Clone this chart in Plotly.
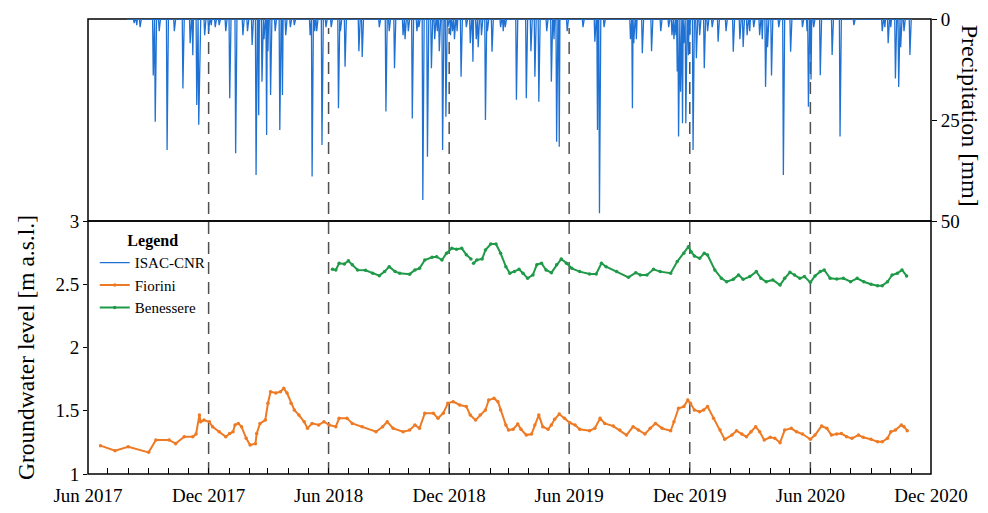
import pandas as pd
import plotly.graph_objects as go

# ---------------- data ----------------
# Daily precipitation (ISAC-CNR station): record period and the rainy days
precip_start = "2017-07-30"
precip_end = "2020-11-01"
rain_dates = [
    "2017-08-10", "2017-08-14", "2017-08-19", "2017-09-08", "2017-09-11", "2017-09-17",
    "2017-09-29", "2017-10-10", "2017-10-23", "2017-11-03", "2017-11-07", "2017-11-13",
    "2017-11-16", "2017-11-17", "2017-11-25", "2017-12-01", "2017-12-05", "2017-12-11",
    "2017-12-17", "2017-12-27", "2018-01-02", "2018-01-11", "2018-01-22", "2018-01-29",
    "2018-02-05", "2018-02-11", "2018-02-15", "2018-02-20", "2018-02-23", "2018-02-27",
    "2018-03-01", "2018-03-05", "2018-03-12", "2018-03-19", "2018-03-23", "2018-03-28",
    "2018-04-04", "2018-04-10", "2018-05-04", "2018-05-07", "2018-05-11", "2018-05-14",
    "2018-05-22", "2018-05-28", "2018-06-05", "2018-06-16", "2018-06-19", "2018-06-26",
    "2018-07-17", "2018-07-22", "2018-08-17", "2018-08-27", "2018-09-01", "2018-09-09",
    "2018-09-22", "2018-09-25", "2018-09-30", "2018-10-06", "2018-10-13", "2018-10-16",
    "2018-10-22", "2018-10-29", "2018-11-04", "2018-11-09", "2018-11-13", "2018-11-16",
    "2018-11-21", "2018-11-26", "2018-11-29", "2018-12-03", "2018-12-06", "2018-12-09",
    "2018-12-13", "2018-12-19", "2018-12-27", "2019-01-02", "2019-01-06", "2019-01-11",
    "2019-01-14", "2019-01-19", "2019-01-25", "2019-01-28", "2019-02-04", "2019-02-17",
    "2019-02-21", "2019-02-24", "2019-03-13", "2019-03-28", "2019-04-04", "2019-04-10",
    "2019-04-16", "2019-04-28", "2019-05-05", "2019-05-09", "2019-05-13", "2019-05-17",
    "2019-05-29", "2019-06-22", "2019-07-10", "2019-07-14", "2019-07-17", "2019-07-24",
    "2019-09-02", "2019-09-05", "2019-09-07", "2019-09-11", "2019-09-20", "2019-10-04",
    "2019-10-18", "2019-10-30", "2019-11-04", "2019-11-07", "2019-11-10", "2019-11-12",
    "2019-11-14", "2019-11-17", "2019-11-20", "2019-11-22", "2019-11-25", "2019-11-29",
    "2019-12-01", "2019-12-06", "2019-12-11", "2019-12-16", "2019-12-23", "2019-12-28",
    "2020-01-04", "2020-01-13", "2020-01-25", "2020-02-05", "2020-02-15", "2020-02-20",
    "2020-02-26", "2020-03-01", "2020-03-07", "2020-03-16", "2020-03-20", "2020-03-25",
    "2020-03-28", "2020-04-03", "2020-04-14", "2020-04-21", "2020-05-02", "2020-05-20",
    "2020-05-27", "2020-05-29", "2020-06-02", "2020-06-06", "2020-06-16", "2020-07-04",
    "2020-07-16", "2020-08-06", "2020-09-18", "2020-09-22", "2020-09-27", "2020-10-01",
    "2020-10-08", "2020-10-13", "2020-10-16", "2020-10-21", "2020-10-30",
]
rain_mm = [
    1.0, 1.5, 2.0, 14.0, 25.4, 3.0,
    32.4, 3.0, 17.2, 6.0, 9.0, 21.3,
    26.2, 15.0, 4.0, 3.0, 1.5, 2.0,
    1.5, 3.0, 19.6, 33.2, 4.0, 3.0,
    6.4, 38.6, 23.8, 15.5, 5.0, 28.7,
    8.0, 18.8, 3.0, 27.5, 18.8, 4.0,
    2.0, 1.5, 4.0, 39.0, 3.0, 3.0,
    31.2, 2.0, 2.0, 22.1, 3.0, 11.8,
    8.0, 9.4, 2.0, 22.9, 3.0, 12.2,
    4.0, 5.0, 3.0, 24.6, 3.0, 2.0,
    44.8, 34.1, 12.2, 5.0, 3.0, 8.0,
    32.4, 24.2, 2.0, 4.0, 3.0, 5.0,
    3.0, 14.3, 2.0, 6.0, 10.6, 5.0,
    7.0, 4.0, 25.0, 3.0, 8.1, 2.0,
    3.0, 2.0, 20.0, 19.6, 8.0, 14.3,
    20.5, 3.0, 15.5, 5.0, 30.4, 31.6,
    3.0, 2.0, 5.6, 27.5, 48.1, 2.0,
    5.0, 22.1, 6.0, 5.0, 8.5, 8.0,
    3.0, 2.0, 4.0, 5.0, 4.0, 13.0,
    29.1, 18.0, 25.8, 6.0, 25.8, 9.0,
    4.0, 32.4, 9.7, 4.0, 12.2, 3.0,
    2.0, 5.6, 3.0, 8.1, 5.0, 6.9,
    4.0, 3.0, 2.0, 4.0, 5.0, 16.8,
    7.0, 14.0, 2.0, 38.6, 8.1, 2.0,
    3.0, 21.7, 15.0, 2.0, 13.9, 8.9,
    29.1, 1.5, 3.0, 2.0, 6.0, 2.0,
    14.7, 16.8, 7.0, 3.0, 8.9,
]

# Groundwater level at the Fiorini well [m a.s.l.]
fiorini_dates = [
    "2017-06-20", "2017-07-12", "2017-08-01", "2017-09-01", "2017-09-12", "2017-10-02",
    "2017-10-12", "2017-10-25", "2017-11-07", "2017-11-12", "2017-11-17", "2017-11-19",
    "2017-11-24", "2017-12-02", "2017-12-07", "2017-12-17", "2017-12-27", "2018-01-02",
    "2018-01-07", "2018-01-10", "2018-01-15", "2018-01-20", "2018-01-27", "2018-02-02",
    "2018-02-10", "2018-02-12", "2018-02-17", "2018-02-25", "2018-03-01", "2018-03-05",
    "2018-03-13", "2018-03-20", "2018-03-25", "2018-03-30", "2018-04-05", "2018-04-10",
    "2018-04-17", "2018-04-25", "2018-04-30", "2018-05-07", "2018-05-17", "2018-05-25",
    "2018-06-02", "2018-06-12", "2018-06-17", "2018-06-29", "2018-07-07", "2018-07-22",
    "2018-08-12", "2018-08-22", "2018-08-29", "2018-09-07", "2018-09-22", "2018-10-02",
    "2018-10-10", "2018-10-17", "2018-10-25", "2018-11-07", "2018-11-14", "2018-11-22",
    "2018-11-29", "2018-12-07", "2018-12-17", "2018-12-27", "2019-01-02", "2019-01-10",
    "2019-01-17", "2019-01-25", "2019-01-30", "2019-02-07", "2019-02-13", "2019-02-17",
    "2019-02-25", "2019-03-01", "2019-03-08", "2019-03-15", "2019-03-20", "2019-03-28",
    "2019-04-05", "2019-04-10", "2019-04-16", "2019-04-22", "2019-04-30", "2019-05-05",
    "2019-05-10", "2019-05-17", "2019-05-25", "2019-06-02", "2019-06-10", "2019-06-17",
    "2019-07-02", "2019-07-10", "2019-07-18", "2019-07-25", "2019-08-07", "2019-08-17",
    "2019-08-27", "2019-09-06", "2019-09-14", "2019-09-24", "2019-10-02", "2019-10-10",
    "2019-10-20", "2019-11-02", "2019-11-07", "2019-11-14", "2019-11-22", "2019-11-28",
    "2019-12-02", "2019-12-08", "2019-12-16", "2019-12-22", "2019-12-28", "2020-01-06",
    "2020-01-16", "2020-01-23", "2020-02-03", "2020-02-10", "2020-02-18", "2020-02-25",
    "2020-03-03", "2020-03-10", "2020-03-16", "2020-03-23", "2020-04-01", "2020-04-08",
    "2020-04-16", "2020-04-23", "2020-05-03", "2020-05-11", "2020-05-20", "2020-06-01",
    "2020-06-08", "2020-06-18", "2020-06-26", "2020-07-03", "2020-07-11", "2020-07-18",
    "2020-07-26", "2020-08-03", "2020-08-13", "2020-08-20", "2020-09-01", "2020-09-11",
    "2020-09-18", "2020-09-26", "2020-10-01", "2020-10-08", "2020-10-17", "2020-10-21",
    "2020-10-26",
]
fiorini_level = [
    1.224, 1.184, 1.216, 1.171, 1.269, 1.269,
    1.240, 1.295, 1.295, 1.317, 1.466, 1.413,
    1.426, 1.413, 1.374, 1.334, 1.295, 1.320,
    1.334, 1.387, 1.400, 1.374, 1.282, 1.229,
    1.240, 1.320, 1.400, 1.426, 1.559, 1.651,
    1.640, 1.651, 1.677, 1.640, 1.560, 1.506,
    1.466, 1.413, 1.361, 1.400, 1.387, 1.413,
    1.387, 1.374, 1.440, 1.440, 1.400, 1.374,
    1.334, 1.374, 1.413, 1.361, 1.334, 1.347,
    1.387, 1.361, 1.480, 1.480, 1.440, 1.480,
    1.559, 1.572, 1.546, 1.533, 1.466, 1.426,
    1.466, 1.506, 1.585, 1.598, 1.572, 1.506,
    1.387, 1.347, 1.353, 1.395, 1.353, 1.308,
    1.316, 1.387, 1.466, 1.374, 1.353, 1.387,
    1.432, 1.474, 1.440, 1.405, 1.387, 1.353,
    1.342, 1.361, 1.440, 1.400, 1.379, 1.347,
    1.308, 1.374, 1.347, 1.316, 1.361, 1.400,
    1.361, 1.342, 1.413, 1.520, 1.533, 1.585,
    1.559, 1.506, 1.493, 1.506, 1.533, 1.440,
    1.347, 1.274, 1.308, 1.342, 1.316, 1.295,
    1.334, 1.374, 1.334, 1.269, 1.290, 1.282,
    1.248, 1.347, 1.361, 1.334, 1.316, 1.274,
    1.308, 1.379, 1.361, 1.308, 1.316, 1.320,
    1.295, 1.282, 1.308, 1.290, 1.274, 1.255,
    1.255, 1.282, 1.334, 1.347, 1.387, 1.374,
    1.342,
]

# Groundwater level at the Benessere well [m a.s.l.] (None = missing record)
benessere_dates = [
    "2018-06-07", "2018-06-12", "2018-06-17", "2018-06-25", "2018-07-01", "2018-07-07",
    "2018-07-15", "2018-07-27", "2018-08-07", "2018-08-17", "2018-08-25", "2018-09-01",
    "2018-09-10", "2018-09-17", "2018-10-02", "2018-10-10", "2018-10-17", "2018-10-25",
    "2018-11-05", "2018-11-12", "2018-11-20", "2018-11-27", "2018-12-05", "2018-12-12",
    "2018-12-20", "2018-12-27", "2019-01-03", "2019-01-05", "2019-01-07", "2019-01-12",
    "2019-01-20", "2019-01-25", "2019-02-02", "2019-02-10", "2019-02-17", "2019-02-25",
    "2019-03-03", "2019-03-10", "2019-03-17", "2019-03-23", "2019-03-30", "2019-04-07",
    "2019-04-13", "2019-04-20", "2019-04-27", "2019-05-05", "2019-05-13", "2019-05-20",
    "2019-05-28", "2019-06-05", "2019-06-17", "2019-07-02", "2019-07-12", "2019-07-20",
    "2019-07-27", "2019-08-12", "2019-08-30", "2019-09-10", "2019-09-17", "2019-09-27",
    "2019-10-07", "2019-10-17", "2019-11-02", "2019-11-12", "2019-11-22", "2019-11-29",
    "2019-12-03", "2019-12-08", "2019-12-16", "2019-12-23", "2019-12-28", "2020-01-08",
    "2020-01-18", "2020-01-26", "2020-02-05", "2020-02-13", "2020-02-20", "2020-03-01",
    "2020-03-11", "2020-03-18", "2020-03-26", "2020-04-05", "2020-04-16", "2020-04-23",
    "2020-05-01", "2020-05-08", "2020-05-16", "2020-05-23", "2020-06-01", "2020-06-08",
    "2020-06-16", "2020-06-22", "2020-07-01", "2020-07-11", "2020-07-21", "2020-08-01",
    "2020-08-11", "2020-08-21", "2020-09-01", "2020-09-11", "2020-09-18", "2020-09-26",
    "2020-10-03", "2020-10-11", "2020-10-18", "2020-10-25",
]
benessere_level = [
    2.618, 2.613, 2.666, 2.660, 2.686, 2.655,
    2.613, 2.610, 2.587, 2.568, 2.600, 2.639,
    2.600, 2.587, 2.580, 2.613, 2.626, 2.692,
    2.713, 2.718, 2.692, 2.745, 2.784, 2.776,
    2.784, 2.734, 2.700, None, 2.666, 2.692,
    2.700, 2.771, 2.818, 2.818, 2.745, 2.639,
    2.587, 2.600, 2.618, 2.587, 2.547, 2.574,
    2.655, 2.666, 2.613, 2.592, 2.655, 2.700,
    2.666, 2.626, 2.600, 2.582, 2.582, 2.666,
    2.639, 2.600, 2.555, 2.592, 2.574, 2.574,
    2.618, 2.600, 2.587, 2.679, 2.745, 2.797,
    2.758, 2.724, 2.705, 2.745, 2.731, 2.613,
    2.547, 2.520, 2.539, 2.574, 2.539, 2.561,
    2.600, 2.547, 2.520, 2.534, 2.494, 2.547,
    2.595, 2.574, 2.547, 2.561, 2.515, 2.566,
    2.600, 2.613, 2.547, 2.542, 2.547, 2.520,
    2.547, 2.520, 2.500, 2.489, 2.489, 2.520,
    2.573, 2.587, 2.613, 2.566,
]

# Month ticks on the time axis; only June and December are labelled
tick_months = pd.date_range("2017-06-01", "2020-12-01", freq="MS")
tick_text = [d.strftime("%b %Y") if d.month in (6, 12) else "" for d in tick_months]
# Half-year markers drawn as dashed guides
guide_dates = ["2017-12-01", "2018-06-01", "2018-12-01", "2019-06-01", "2019-12-01", "2020-06-01"]

# ---------------- build daily precipitation series ----------------
precip = pd.Series(0.0, index=pd.date_range(precip_start, precip_end, freq="D"))
precip[pd.to_datetime(rain_dates)] = rain_mm

BLUE = "#1f72d4"
ORANGE = "#ee7a24"
GREEN = "#1f9a48"
FONT = "Liberation Serif"

split = 0.556  # boundary between lower and upper panel (paper units)


def font(size, **kw):
    return dict(family=FONT, size=size, color="black", **kw)


fig = go.Figure()
fig.add_trace(go.Scatter(
    x=precip.index, y=precip.values, mode="lines", name="ISAC-CNR",
    line=dict(color=BLUE, width=1.3), yaxis="y2",
))
fig.add_trace(go.Scatter(
    x=pd.to_datetime(fiorini_dates), y=fiorini_level, mode="lines+markers", name="Fiorini",
    line=dict(color=ORANGE, width=2), marker=dict(color=ORANGE, size=3.5),
))
fig.add_trace(go.Scatter(
    x=pd.to_datetime(benessere_dates), y=benessere_level, mode="lines+markers", name="Benessere",
    line=dict(color=GREEN, width=2), marker=dict(color=GREEN, size=3.5),
    connectgaps=False,
))

shapes = [
    dict(type="rect", xref="paper", yref="paper", x0=0, x1=1, y0=0, y1=split,
         line=dict(color="black", width=1.5), layer="below"),
    dict(type="rect", xref="paper", yref="paper", x0=0, x1=1, y0=split, y1=1,
         line=dict(color="black", width=1.5), layer="below"),
]
for g in guide_dates:
    shapes.append(dict(type="line", xref="x", yref="paper", x0=g, x1=g, y0=0, y1=0.98,
                       line=dict(color="#505050", width=1.5, dash="12px,8px"), layer="below"))

fig.update_layout(
    width=988, height=513,
    margin=dict(l=88, r=57, t=19, b=39, autoexpand=False),
    paper_bgcolor="white", plot_bgcolor="white",
    font=font(19),
    showlegend=True,
    legend=dict(
        x=0.008, y=split - 0.01, xanchor="left", yanchor="top",
        bgcolor="rgba(0,0,0,0)", font=font(15), tracegroupgap=0,
        title=dict(text="<b>Legend</b>", side="top center", font=font(16)),
        itemwidth=30,
    ),
    xaxis=dict(
        type="date", range=["2017-06-01", "2020-12-01"], anchor="y",
        tickmode="array", tickvals=tick_months, ticktext=tick_text,
        ticks="inside", ticklen=6, tickwidth=1.2, tickcolor="black",
        showgrid=False, zeroline=False, showline=False, automargin=False,
        tickfont=font(19), ticklabelstandoff=8,
    ),
    yaxis=dict(
        domain=[0, split], range=[1, 3], tickvals=[1, 1.5, 2, 2.5, 3],
        ticks="outside", ticklen=4, tickcolor="black",
        showgrid=False, zeroline=False, showline=False, automargin=False,
        title=dict(text="Groundwater level [m a.s.l.]", font=font(23.5), standoff=14),
        tickfont=font(19),
    ),
    yaxis2=dict(
        domain=[split, 1], range=[50, 0], anchor="x", side="right",
        tickvals=[0, 25, 50], ticks="outside", ticklen=5, tickcolor="black",
        showgrid=False, zeroline=False, showline=False, automargin=False,
        tickfont=font(19),
    ),
    shapes=shapes,
    annotations=[dict(
        text="Precipitation [mm]", xref="paper", yref="paper",
        x=1.046, y=(1 + split) / 2 + 0.01, textangle=90, showarrow=False,
        font=font(24), xanchor="center", yanchor="middle",
    )],
)

fig.write_html("out.html")
